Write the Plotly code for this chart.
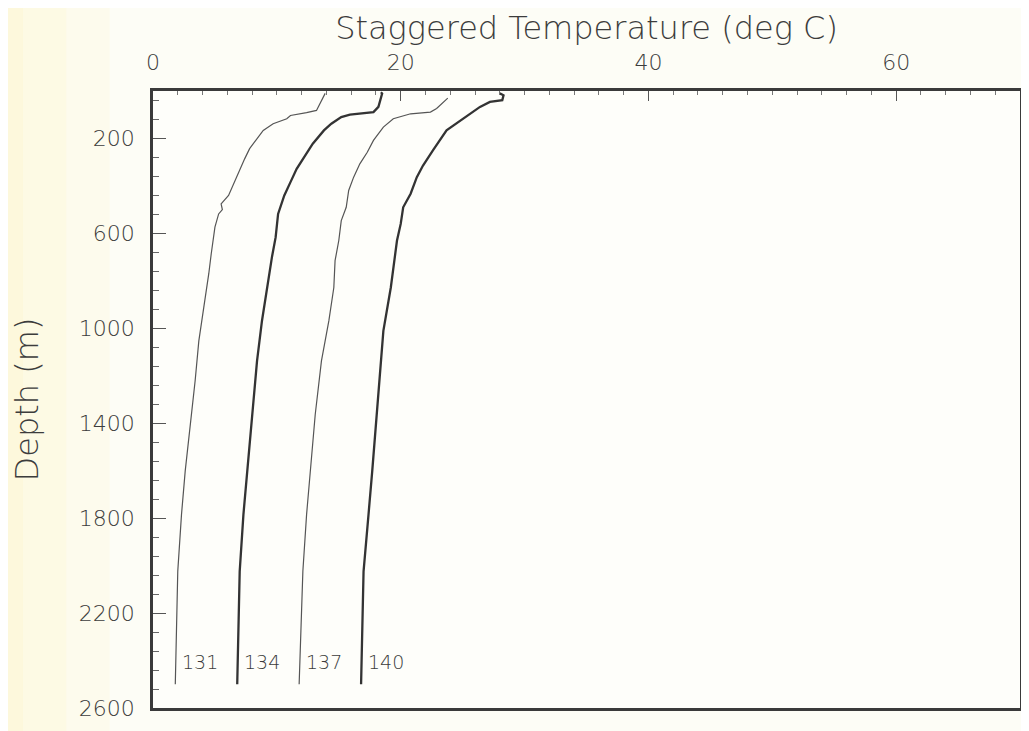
import plotly.graph_objects as go

# ---- data ----
station_names = ["131", "134", "137", "140"]

depth_131 = [10, 53, 82, 91, 103, 117, 138, 166, 201, 243, 286, 356, 440, 476, 500, 518, 574, 687, 771, 912, 1053, 1222, 1405, 1602, 1785, 2024, 2500]
temp_131 = [13.9, 13.5, 13.2, 12.4, 11.1, 10.8, 9.7, 8.9, 8.4, 7.8, 7.4, 6.8, 6.1, 5.5, 5.6, 5.3, 5.0, 4.7, 4.5, 4.1, 3.7, 3.4, 3.0, 2.6, 2.3, 2.0, 1.8]

depth_134 = [5, 11, 67, 89, 100, 110, 138, 166, 222, 272, 328, 384, 440, 518, 617, 701, 828, 968, 1137, 1362, 1602, 1785, 2024, 2500]
temp_134 = [18.4, 18.5, 18.2, 17.8, 15.9, 15.2, 14.4, 13.8, 12.9, 12.3, 11.6, 11.1, 10.6, 10.1, 9.9, 9.6, 9.2, 8.8, 8.4, 8.0, 7.6, 7.3, 7.0, 6.8]

depth_137 = [30, 39, 74, 89, 96, 117, 152, 208, 258, 307, 363, 419, 490, 546, 630, 715, 828, 968, 1137, 1362, 1602, 1785, 2024, 2500]
temp_137 = [23.8, 23.6, 22.9, 22.4, 20.8, 19.4, 18.6, 17.8, 17.3, 16.7, 16.2, 15.8, 15.6, 15.2, 15.0, 14.7, 14.6, 14.2, 13.6, 13.1, 12.7, 12.4, 12.1, 11.8]

depth_140 = [10, 18, 39, 46, 67, 96, 124, 166, 250, 314, 363, 433, 490, 560, 630, 715, 828, 1011, 1222, 1362, 1602, 1785, 2024, 2500]
temp_140 = [28.0, 28.3, 28.2, 27.2, 26.4, 25.6, 24.8, 23.7, 22.6, 21.8, 21.3, 20.8, 20.2, 20.0, 19.7, 19.5, 19.2, 18.6, 18.3, 18.1, 17.7, 17.4, 17.0, 16.8]

label_depth = 2405
x_tickvals = [0, 20, 40, 60]
y_tickvals = [200, 600, 1000, 1400, 1800, 2200, 2600]

series = [
    (station_names[0], temp_131, depth_131, "#555555", 1.2),
    (station_names[1], temp_134, depth_134, "#333333", 2.3),
    (station_names[2], temp_137, depth_137, "#555555", 1.2),
    (station_names[3], temp_140, depth_140, "#333333", 2.3),
]

FONT = "'DejaVu Sans', sans-serif"
TXT = "#3c3c3c"
W = 200

fig = go.Figure()
for name, t, d, col, w in series:
    fig.add_trace(go.Scatter(x=t, y=d, mode="lines", name=name,
                             line=dict(color=col, width=w), showlegend=False))
    fig.add_annotation(x=t[-1], y=label_depth, text=name, showarrow=False,
                       xanchor="left", yanchor="middle", xshift=5,
                       font=dict(family=FONT, size=19, color=TXT, weight=W))

# faint yellowish tint on the left edge of the page (margin only)
tints = [(-0.2, -0.15, 0.30), (-0.15, -0.10, 0.20), (-0.10, -0.05, 0.10)]
for x0, x1, op in tints:
    fig.add_shape(type="rect", xref="paper", yref="paper", x0=x0, x1=x1,
                  y0=-0.1, y1=1.2, layer="below", line=dict(width=0),
                  fillcolor="rgba(255,238,160,%.2f)" % op)

fig.update_layout(
    width=1029, height=731,
    margin=dict(l=145, r=17, t=83, b=31, autoexpand=False),
    paper_bgcolor="#fdfdf6",
    plot_bgcolor="#fefefa",
    font=dict(family=FONT, color=TXT),
    xaxis=dict(
        side="top", range=[0, 70],
        tickvals=x_tickvals, ticktext=[str(v) for v in x_tickvals],
        ticks="inside", ticklen=10, tickwidth=1.2, tickcolor="#555",
        minor=dict(dtick=2, tick0=0, ticks="inside", ticklen=4, tickwidth=1, tickcolor="#777"),
        showgrid=False, zeroline=False,
        showline=True, linecolor="#3a3a3a", linewidth=2.5, mirror=True,
        tickfont=dict(family=FONT, size=22, color=TXT, weight=W),
        ticklabelstandoff=9,
        title=dict(text="Staggered Temperature (deg C)", standoff=2,
                   font=dict(family=FONT, size=32, color=TXT, weight=W)),
    ),
    yaxis=dict(
        range=[2600, 0],
        tickvals=y_tickvals, ticktext=[str(v) for v in y_tickvals],
        ticks="inside", ticklen=13, tickwidth=1.2, tickcolor="#555",
        minor=dict(dtick=80, tick0=40, ticks="inside", ticklen=6, tickwidth=1, tickcolor="#666"),
        showgrid=False, zeroline=False,
        showline=True, linecolor="#3a3a3a", linewidth=2.5, mirror=True,
        tickfont=dict(family=FONT, size=22, color=TXT, weight=W),
        ticklabelstandoff=11,
        title=dict(text="Depth (m)", standoff=38,
                   font=dict(family=FONT, size=32, color=TXT, weight=W)),
    ),
)

fig.write_html("out.html")
